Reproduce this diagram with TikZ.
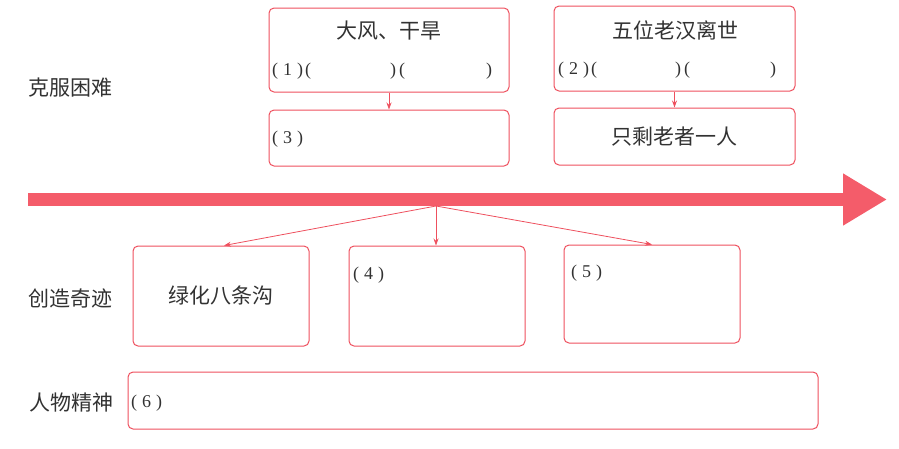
\documentclass[tikz,border=0pt]{standalone}
\usepackage{fontspec}
\setmainfont{Liberation Serif}
\newfontfamily\cjk{Noto Sans CJK SC}
\usetikzlibrary{arrows.meta}
\definecolor{boxred}{RGB}{238,80,94}
\definecolor{barred}{RGB}{244,92,106}
\definecolor{ink}{RGB}{50,50,50}
\newcommand{\hao}[1]{(\hspace{5pt}#1\hspace{5pt})}

\begin{document}
\begin{tikzpicture}[
  x=1pt, y=-1pt,
  box/.style={rectangle, rounded corners=5pt, draw=boxred, line width=1pt, inner sep=0pt},
  cn/.style={font=\cjk\fontsize{21}{25}\selectfont, text=ink, inner sep=0pt},
  no/.style={font=\fontsize{18}{21}\selectfont, text=ink, inner sep=0pt, anchor=west},
  link/.style={draw=boxred, line width=0.8pt, -{Stealth[length=7pt,width=5pt]}},
  timeline/.style={draw=barred, line width=13pt, -{Triangle[length=44pt,width=49pt]}}
]
\useasboundingbox (0,0) rectangle (899,448);
% row labels
\node[cn, anchor=west] (overcome) at (28,88)  {克服困难};
\node[cn, anchor=west] (miracle)  at (28,298) {创造奇迹};
\node[cn, anchor=west] (spirit)   at (29,403) {人物精神};
% hardships
\node[box, minimum width=240, minimum height=84] (gale)    at (389,50)    {};
\node[box, minimum width=240, minimum height=56] (blank3)  at (389,138)   {};
\node[box, minimum width=241, minimum height=85] (elders)  at (674.5,48.5) {};
\node[box, minimum width=241, minimum height=57, cn] (lastone) at (674.5,136.5) {只剩老者一人};
\node[cn] (galetxt)  at (389,31) {大风、干旱};
\node[cn] (elderstxt) at (675,30) {五位老汉离世};
\node[no] (blank1) at (272,71) {\hao{1}\hspace{2pt}(\hspace{79pt})\hspace{3pt}(\hspace{81pt})};
\node[no] (blank2) at (558,70) {\hao{2}\hspace{2pt}(\hspace{78pt})\hspace{3pt}(\hspace{80pt})};
\node[no] at (272,139.5) {\hao{3}};
\draw[link] (gale) -- (blank3);
\draw[link] (elders) -- (lastone);
% time line
\coordinate (tail) at (28,199.5);
\coordinate (head) at (887,199.5);
\draw[timeline] (tail) -- (head);
\coordinate (fork) at (436,206);
% miracles
\node[box, minimum width=176, minimum height=100, cn] (green) at (221,296) {绿化八条沟};
\node[box, minimum width=176, minimum height=100] (blank4) at (437,296) {};
\node[box, minimum width=176, minimum height=98]  (blank5) at (652,294) {};
\node[no] at (353,275) {\hao{4}};
\node[no] at (571,273) {\hao{5}};
\draw[link] (fork) -- ([xshift=3pt]green.north);
\draw[link] (fork) -- (blank4.north -| fork);
\draw[link] (fork) -- (blank5.north);
% spirit
\node[box, minimum width=690, minimum height=57] (blank6) at (473,400.5) {};
\node[no] at (131,403) {\hao{6}};
\end{tikzpicture}
\end{document}
